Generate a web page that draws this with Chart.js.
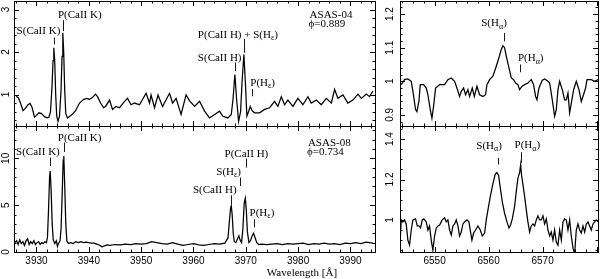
<!DOCTYPE html>
<html><head><meta charset="utf-8">
<script src="https://cdn.jsdelivr.net/npm/chart.js@4/dist/chart.umd.min.js"></script>
<style>
html,body{margin:0;padding:0;background:#fff;}
#wrap{position:relative;width:600px;height:279px;overflow:hidden;background:#fff;}
#wrap canvas{position:absolute;left:0;top:0;}
#xlabel{position:absolute;left:0;width:604px;top:266px;line-height:12px;text-align:center;font:11px "Liberation Serif";color:#000;}
</style></head><body>
<div id="wrap">
<canvas id="tl" width="600" height="279"></canvas>
<canvas id="bl" width="600" height="279"></canvas>
<canvas id="tr" width="600" height="279"></canvas>
<canvas id="br" width="600" height="279"></canvas>
<div id="xlabel">Wavelength [Å]</div>
</div>
<script>
// ---- data: [wavelength (Å), normalised flux] ----
const asas04CaII = [[3926.12,0.96],[3926.56,0.92],[3926.94,0.80],[3927.42,0.62],[3927.90,0.68],[3928.38,0.76],[3928.76,0.79],[3929.14,0.70],[3929.62,0.47],[3930.00,0.51],[3930.48,0.57],[3930.96,0.55],[3931.53,0.48],[3932.01,0.45],[3932.39,0.47],[3932.68,0.60],[3932.97,1.2],[3933.16,1.8],[3933.31,2.10],[3933.48,1.8],[3933.67,1.0],[3933.86,0.5],[3934.11,0.37],[3934.40,0.5],[3934.69,1.1],[3934.88,1.9],[3935.03,2.45],[3935.20,2.0],[3935.39,1.1],[3935.60,0.55],[3935.93,0.45],[3936.50,0.50],[3936.89,0.54],[3937.46,0.62],[3938.22,0.80],[3938.99,0.88],[3939.56,0.91],[3940.14,0.89],[3940.71,0.93],[3941.28,1.01],[3941.67,0.95],[3942.24,0.80],[3942.81,0.69],[3943.20,0.72],[3943.96,0.87],[3944.53,0.65],[3945.20,0.72],[3945.87,0.69],[3946.83,0.84],[3947.40,0.91],[3948.07,0.76],[3948.74,0.80],[3949.70,0.76],[3950.94,1.03],[3951.61,0.80],[3951.90,0.99],[3952.56,0.69],[3953.23,0.99],[3954.09,0.72],[3955.43,1.03],[3956.01,0.80],[3956.68,0.91],[3957.63,0.53],[3958.59,0.99],[3959.26,0.85],[3960.21,0.72],[3961.17,0.84],[3962.12,0.61],[3963.08,0.45],[3964.04,0.53],[3964.99,0.61],[3965.62,0.49],[3966.58,0.45],[3967.23,0.53],[3967.57,0.9],[3967.92,1.47],[3968.24,0.9],[3968.63,0.37],[3969.01,0.6],[3969.29,1.3],[3969.64,1.94],[3969.96,1.2],[3970.21,0.49],[3970.54,0.6],[3970.86,0.72],[3971.21,0.62],[3971.68,0.57],[3972.64,0.57],[3973.60,0.65],[3974.55,0.69],[3975.51,0.84],[3976.14,0.72],[3976.79,0.95],[3977.42,0.76],[3978.05,0.87],[3979.01,0.72],[3979.96,0.91],[3980.92,0.76],[3981.88,0.95],[3982.53,0.80],[3983.48,0.87],[3984.44,0.76],[3985.39,0.91],[3986.35,0.80],[3986.98,1.12],[3987.61,0.91],[3988.57,0.99],[3989.52,0.80],[3990.48,0.87],[3991.44,1.01],[3992.09,0.91],[3993.04,1.01],[3993.67,0.95],[3994.30,1.08]];

const asas08CaII = [[3925.9,1.0],[3926.2,1.2],[3926.5,0.8],[3926.8,1.3],[3927.1,0.9],[3927.4,1.1],[3927.7,0.7],[3928.0,1.2],[3928.3,1.4],[3928.6,0.8],[3928.9,1.1],[3929.2,0.9],[3929.5,1.2],[3929.8,0.8],[3930.1,1.0],[3930.4,1.1],[3930.7,0.8],[3931.0,1.0],[3931.3,0.9],[3931.6,1.1],[3931.9,1.0],[3932.1,1.6],[3932.3,4.5],[3932.5,8.0],[3932.62,8.65],[3932.8,6.5],[3933.0,3.0],[3933.2,1.3],[3933.5,0.9],[3933.8,1.2],[3934.0,0.6],[3934.2,0.9],[3934.5,1.2],[3934.7,2.5],[3934.9,6.0],[3935.1,9.8],[3935.22,10.25],[3935.4,7.0],[3935.6,3.0],[3935.8,1.2],[3936.1,0.9],[3936.5,1.0],[3937.0,0.9],[3937.5,1.1],[3938.0,1.0],[3938.5,1.1],[3939.0,1.0],[3939.5,1.05],[3940.0,1.0],[3940.5,0.95],[3941.0,0.95],[3941.5,0.85],[3942.0,0.75],[3942.5,0.55],[3943.0,0.65],[3943.5,0.75],[3944.0,0.7],[3945.0,0.8],[3946.0,0.75],[3947.0,0.85],[3948.0,0.8],[3949.0,0.9],[3950.0,0.85],[3951.0,0.9],[3952.0,1.1],[3953.0,1.0],[3954.0,0.9],[3955.0,0.85],[3956.0,1.0],[3957.0,0.85],[3958.0,0.7],[3959.0,0.8],[3960.0,0.9],[3961.0,0.75],[3962.0,0.7],[3963.0,0.8],[3964.0,0.9],[3965.0,0.85],[3966.0,0.95],[3966.6,1.5],[3966.9,3.5],[3967.1,4.7],[3967.23,4.93],[3967.4,4.0],[3967.6,2.0],[3967.8,1.1],[3968.1,1.0],[3968.4,1.4],[3968.68,1.73],[3968.9,1.3],[3969.2,1.0],[3969.45,2.5],[3969.7,5.2],[3969.91,5.74],[3970.1,4.5],[3970.3,2.2],[3970.6,1.0],[3970.9,1.2],[3971.2,1.7],[3971.49,2.0],[3971.8,1.5],[3972.1,1.0],[3972.5,0.8],[3973.0,0.85],[3974.0,0.8],[3975.0,0.85],[3976.0,0.9],[3977.0,0.8],[3978.0,0.9],[3979.0,0.85],[3980.0,0.9],[3981.0,0.95],[3982.0,0.8],[3983.0,0.9],[3984.0,0.85],[3985.0,0.95],[3986.0,0.85],[3987.0,0.9],[3988.0,0.8],[3989.0,0.95],[3990.0,0.9],[3991.0,1.0],[3992.0,0.9],[3993.0,1.05],[3994.3,0.95]];

const asas04Ha = [[6543.83,0.99],[6544.44,1.005],[6545.06,1.007],[6545.68,1.0],[6545.99,0.97],[6546.48,0.916],[6546.73,0.91],[6547.10,0.94],[6547.35,0.99],[6547.96,0.99],[6548.46,0.98],[6548.77,0.96],[6549.20,0.916],[6549.51,0.89],[6549.81,0.925],[6550.19,0.98],[6550.93,0.99],[6551.85,0.99],[6552.47,1.005],[6553.09,1.01],[6553.70,1.0],[6554.14,0.98],[6554.63,0.955],[6554.94,0.97],[6555.37,0.98],[6555.74,0.96],[6556.17,0.975],[6556.48,0.955],[6556.98,0.98],[6557.35,0.955],[6557.84,0.985],[6558.33,0.96],[6558.95,0.955],[6559.44,0.96],[6559.69,0.99],[6560.19,1.005],[6560.80,1.015],[6561.42,1.045],[6561.91,1.07],[6562.35,1.095],[6562.65,1.106],[6562.96,1.10],[6563.27,1.075],[6563.77,1.04],[6564.20,1.01],[6564.63,1.005],[6565.00,0.995],[6565.43,0.99],[6565.74,0.975],[6566.17,0.985],[6566.67,0.99],[6567.28,0.995],[6567.90,1.005],[6568.33,0.99],[6568.70,0.955],[6568.95,0.945],[6569.32,0.98],[6569.94,1.003],[6570.37,1.007],[6570.99,1.0],[6571.30,0.995],[6571.79,0.945],[6572.22,0.896],[6572.53,0.916],[6572.84,0.975],[6573.15,1.0],[6573.64,0.975],[6574.07,0.945],[6574.38,0.945],[6574.69,0.965],[6575.00,0.906],[6575.31,0.935],[6575.74,0.975],[6576.23,1.0],[6576.73,0.975],[6577.16,0.94],[6577.47,0.955],[6577.96,0.98],[6578.21,1.005],[6579.01,1.005],[6579.63,1.0],[6580.25,1.005]];

const asas08Ha = [[6543.64,0.90],[6543.83,1.0],[6544.14,0.99],[6544.44,1.0],[6544.75,0.98],[6545.06,0.90],[6545.37,0.875],[6545.68,0.95],[6545.99,1.0],[6546.48,1.005],[6546.79,0.97],[6547.10,0.97],[6547.41,0.96],[6547.72,1.0],[6548.02,1.005],[6548.46,0.99],[6548.77,0.95],[6549.07,0.97],[6549.38,0.90],[6549.69,0.85],[6550.00,0.92],[6550.31,0.96],[6550.62,0.97],[6550.93,0.975],[6551.42,1.0],[6551.85,1.01],[6552.16,0.99],[6552.47,1.0],[6552.78,0.95],[6553.09,0.925],[6553.40,0.97],[6553.70,0.98],[6554.01,1.0],[6554.32,0.97],[6554.63,0.92],[6554.94,0.94],[6555.25,0.98],[6555.56,0.99],[6555.99,1.0],[6556.36,0.99],[6556.60,0.95],[6556.91,0.90],[6557.22,0.935],[6557.59,0.95],[6558.02,0.97],[6558.46,0.95],[6558.83,0.92],[6559.26,0.935],[6559.57,1.0],[6559.88,1.05],[6560.31,1.115],[6560.80,1.18],[6561.23,1.227],[6561.54,1.235],[6561.85,1.22],[6562.16,1.16],[6562.53,1.09],[6562.96,1.033],[6563.40,0.99],[6563.77,0.96],[6564.07,0.975],[6564.38,1.005],[6564.81,1.066],[6565.12,1.14],[6565.43,1.207],[6565.74,1.233],[6565.93,1.273],[6566.11,1.22],[6566.36,1.175],[6566.67,1.115],[6566.98,1.05],[6567.28,0.99],[6567.59,0.94],[6567.90,0.97],[6568.21,0.98],[6568.52,0.97],[6568.83,1.0],[6569.14,1.02],[6569.44,1.0],[6569.75,1.0],[6570.06,1.02],[6570.37,0.98],[6570.68,1.005],[6570.99,0.95],[6571.30,0.92],[6571.60,0.94],[6571.91,0.90],[6572.22,0.95],[6572.53,0.89],[6572.84,0.875],[6573.15,0.95],[6573.46,0.90],[6573.77,0.99],[6574.07,1.005],[6574.38,1.0],[6574.69,0.95],[6575.00,1.0],[6575.31,0.92],[6575.62,0.86],[6575.93,0.835],[6576.23,0.95],[6576.54,0.98],[6576.85,0.95],[6577.16,0.935],[6577.47,0.97],[6577.78,0.94],[6578.09,0.98],[6578.40,0.99],[6578.70,0.97],[6579.01,0.95],[6579.32,0.98],[6579.63,0.99],[6579.94,1.0],[6580.25,0.99]];

// tick labels
const caXLabels = [3930, 3940, 3950, 3960, 3970, 3980, 3990];
const haXLabels = [6550, 6560, 6570];
const tlYLabels = [1, 2, 3];
const blYLabels = [0, 5, 10];
const trYLabels = [0.9, 1, 1.1, 1.2];
const brYLabels = [1, 1.2, 1.4];

// line identifications
const tlNotes = [
  {t:'S(CaII K)', tx:3926.2, ty:2.50, mx:3933.35, m0:2.34, m1:2.18},
  {t:'P(CaII K)', tx:3934.1, ty:2.86, mx:3935.1, m0:2.75, m1:2.49},
  {t:'P(CaII H) + S(H_ε)', tx:3960.84, ty:2.40, mx:3969.64, m0:2.31, m1:1.98},
  {t:'S(CaII H)', tx:3960.84, ty:1.86, mx:3967.92, m0:1.75, m1:1.55},
  {t:'P(H_ε)', tx:3970.86, ty:1.28, mx:3971.17, m0:1.13, m1:0.96},
  {t:'ASAS-04', tx:3982.2, ty:2.86},
  {t:'ϕ=0.889', tx:3982.0, ty:2.65}
];
const blNotes = [
  {t:'S(CaII K)', tx:3926.1, ty:10.7, mx:3932.62, m0:10.07, m1:9.18},
  {t:'P(CaII K)', tx:3934.07, ty:12.2, mx:3935.22, m0:11.67, m1:10.67},
  {t:'P(CaII H)', tx:3965.95, ty:10.43, mx:3970.0, m0:9.97, m1:9.01},
  {t:'S(H_ε)', tx:3964.36, ty:8.54, mx:3968.82, m0:7.95, m1:7.05},
  {t:'S(CaII H)', tx:3959.89, ty:6.63, mx:3967.23, m0:6.06, m1:5.11},
  {t:'P(H_ε)', tx:3970.73, ty:4.12, mx:3971.49, m0:3.51, m1:2.62},
  {t:'ASAS-08', tx:3981.88, ty:11.67},
  {t:'ϕ=0.734', tx:3981.7, ty:10.71}
];
const trNotes = [
  {t:'S(H_α)', tx:6558.64, ty:1.172, mx:6562.78, m0:1.144, m1:1.119},
  {t:'P(H_α)', tx:6565.43, ty:1.068, mx:6565.86, m0:1.05, m1:1.027}
];
const brNotes = [
  {t:'S(H_α)', tx:6557.72, ty:1.365, mx:6561.73, m0:1.307, m1:1.274},
  {t:'P(H_α)', tx:6564.81, ty:1.368, mx:6566.05, m0:1.335, m1:1.282}
];

// ---- drawing ----
const TICK_FONT = '10px "Liberation Sans", Arial, sans-serif';
const NOTE_FONT = '11px "Liberation Serif", "Times New Roman", serif';
const SUB_FONT = '8px "Liberation Serif", "Times New Roman", serif';
const panelCfg = {};

function tickList(min, max, minor, major) {
  const out = [];
  const k0 = Math.ceil(min / minor - 1e-9), k1 = Math.floor(max / minor + 1e-9);
  for (let k = k0; k <= k1; k++) {
    const v = k * minor;
    const r = v / major;
    out.push([v, Math.abs(r - Math.round(r)) < 1e-6]);
  }
  return out;
}

function drawRich(ctx, str, x, y) {
  const parts = str.split('_');
  let cx = x;
  parts.forEach((part, i) => {
    if (i > 0) {
      const s = part[0];
      ctx.font = SUB_FONT;
      ctx.fillText(s, cx, y + 3);
      cx += ctx.measureText(s).width;
      part = part.slice(1);
    }
    ctx.font = NOTE_FONT;
    ctx.fillText(part, cx, y);
    cx += ctx.measureText(part).width;
  });
}

const panelPlugin = {
  id: 'panelFrame',
  afterDraw(chart) {
    const cfg = panelCfg[chart.canvas.id];
    const ctx = chart.ctx, a = chart.chartArea, xs = chart.scales.x, ys = chart.scales.y;
    ctx.save();
    ctx.strokeStyle = '#000';
    ctx.lineWidth = 1;
    ctx.strokeRect(a.left + 0.5, a.top + 0.5, a.right - a.left, a.bottom - a.top);
    ctx.beginPath();
    tickList(xs.min, xs.max, cfg.xMinor, cfg.xMajor).forEach(([v, maj]) => {
      const p = Math.round(xs.getPixelForValue(v)) + 0.5, L = maj ? 5 : 2.5;
      ctx.moveTo(p, a.bottom); ctx.lineTo(p, a.bottom - L);
      ctx.moveTo(p, a.top); ctx.lineTo(p, a.top + L);
    });
    tickList(ys.min, ys.max, cfg.yMinor, cfg.yMajor).forEach(([v, maj]) => {
      const p = Math.round(ys.getPixelForValue(v)) + 0.5, L = maj ? 5 : 2.5;
      ctx.moveTo(a.left, p); ctx.lineTo(a.left + L, p);
      ctx.moveTo(a.right, p); ctx.lineTo(a.right - L, p);
    });
    ctx.stroke();

    ctx.fillStyle = '#000';
    ctx.font = TICK_FONT;
    ctx.textAlign = 'center';
    ctx.textBaseline = 'middle';
    cfg.yLabels.forEach(v => {
      const py = ys.getPixelForValue(v);
      ctx.save();
      ctx.translate(a.left - cfg.yGap, py);
      ctx.rotate(-Math.PI / 2);
      ctx.fillText(String(v), 0, 0);
      ctx.restore();
    });
    if (cfg.xLabels) {
      cfg.xLabels.forEach(v => ctx.fillText(String(v), xs.getPixelForValue(v), a.bottom + 9.5));
    }

    ctx.textAlign = 'left';
    ctx.beginPath();
    cfg.notes.forEach(n => {
      drawRich(ctx, n.t, xs.getPixelForValue(n.tx), ys.getPixelForValue(n.ty));
      if (n.mx !== undefined) {
        const px = Math.round(xs.getPixelForValue(n.mx)) + 0.5;
        ctx.moveTo(px, ys.getPixelForValue(n.m0));
        ctx.lineTo(px, ys.getPixelForValue(n.m1));
      }
    });
    ctx.lineWidth = 0.9;
    ctx.stroke();
    ctx.restore();
  }
};

function makePanel(id, series, cfg) {
  panelCfg[id] = cfg;
  return new Chart(document.getElementById(id), {
    type: 'line',
    data: {
      datasets: [{
        data: series.map(p => ({x: p[0], y: p[1]})),
        borderColor: '#000',
        borderWidth: 1.25,
        pointRadius: 0,
        tension: 0,
        fill: false
      }]
    },
    options: {
      responsive: false,
      animation: false,
      events: [],
      layout: {padding: cfg.pad},
      scales: {
        x: {type: 'linear', min: cfg.xmin, max: cfg.xmax, display: false},
        y: {type: 'linear', min: cfg.ymin, max: cfg.ymax, display: false}
      },
      plugins: {legend: {display: false}, tooltip: {enabled: false}}
    },
    plugins: [panelPlugin]
  });
}

makePanel('tl', asas04CaII, {
  pad: {left: 14, top: 1, right: 225, bottom: 153},
  xmin: 3925.7, xmax: 3994.7, ymin: 0.26, ymax: 3.2,
  xMinor: 2, xMajor: 10, yMinor: 0.2, yMajor: 1,
  yLabels: tlYLabels, yGap: 8, xLabels: null, notes: tlNotes
});
makePanel('bl', asas08CaII, {
  pad: {left: 14, top: 126, right: 225, bottom: 27},
  xmin: 3925.7, xmax: 3994.7, ymin: 0, ymax: 13.45,
  xMinor: 2, xMajor: 10, yMinor: 1, yMajor: 5,
  yLabels: blYLabels, yGap: 8, xLabels: caXLabels, notes: blNotes
});
makePanel('tr', asas04Ha, {
  pad: {left: 400, top: 1, right: 2, bottom: 153},
  xmin: 6543.6, xmax: 6580.25, ymin: 0.867, ymax: 1.239,
  xMinor: 2, xMajor: 10, yMinor: 0.02, yMajor: 0.1,
  yLabels: trYLabels, yGap: 10, xLabels: null, notes: trNotes
});
makePanel('br', asas08Ha, {
  pad: {left: 400, top: 126, right: 2, bottom: 27},
  xmin: 6543.6, xmax: 6580.25, ymin: 0.841, ymax: 1.465,
  xMinor: 2, xMajor: 10, yMinor: 0.05, yMajor: 0.2,
  yLabels: brYLabels, yGap: 10, xLabels: haXLabels, notes: brNotes
});
</script>
</body></html>
